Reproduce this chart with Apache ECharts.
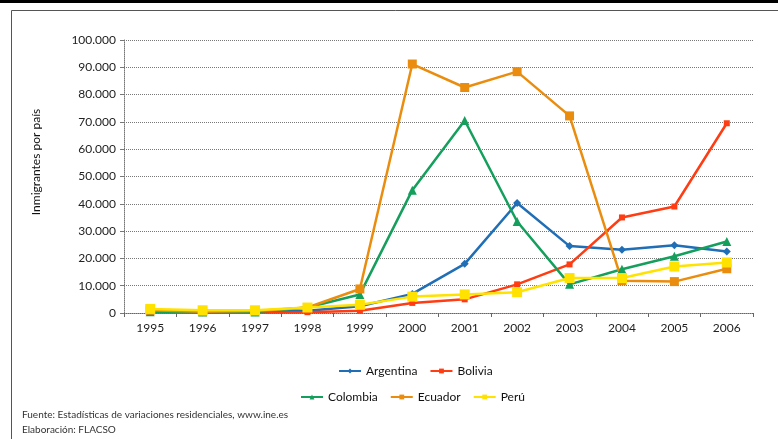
<!DOCTYPE html>
<html>
<head>
<meta charset="utf-8">
<script src="https://cdn.jsdelivr.net/npm/echarts@6/dist/echarts.min.js"></script>
<style>
  html, body { margin: 0; padding: 0; background: #fff; }
  #chart { width: 778px; height: 439px; }
</style>
</head>
<body>
<div id="chart"></div>
<script>
var years = ['1995', '1996', '1997', '1998', '1999', '2000', '2001', '2002', '2003', '2004', '2005', '2006'];

var argentina = [500, 300, 300, 800, 2500, 7000, 18000, 40300, 24500, 23200, 24800, 22500];
var bolivia   = [200, 200, 200, 300, 800, 3700, 5000, 10500, 17800, 35000, 39000, 69500];
var colombia  = [500, 400, 400, 2000, 6800, 45000, 70500, 33500, 10500, 16000, 20800, 26200];
var ecuador   = [1000, 500, 700, 2000, 8800, 91200, 82600, 88400, 72200, 11800, 11500, 16200];
var peru      = [1500, 1000, 1000, 2000, 3000, 6000, 6800, 7600, 12800, 12800, 17000, 18500];

var chart = echarts.init(document.getElementById('chart'));

function fmt(v) {
    return String(v).replace(/\B(?=(\d{3})+(?!\d))/g, '.');
}

function line(name, data, color, symbol, size) {
    return {
        name: name,
        type: 'line',
        data: data,
        symbol: symbol,
        symbolSize: size,
        showSymbol: true,
        lineStyle: { width: 2.5, color: color },
        itemStyle: { color: color },
        emphasis: { disabled: true }
    };
}

var option = {
    animation: false,
    textStyle: { fontFamily: 'Lato' },
    grid: { left: 124, right: 25, top: 40, bottom: 126 },
    graphic: [
        { type: 'rect', shape: { x: 0, y: 0, width: 778, height: 3 }, style: { fill: '#000' } },
        { type: 'rect', shape: { x: 11.5, y: 10.5, width: 800, height: 500 }, style: { fill: 'none', stroke: '#555', lineWidth: 1 } },
        { type: 'text', left: 22, top: 410, style: { text: 'Fuente: Estadísticas de variaciones residenciales, www.ine.es', fill: '#333', font: '10px Lato' } },
        { type: 'text', left: 22, top: 425, style: { text: 'Elaboración: FLACSO', fill: '#333', font: '10px Lato' } },
        { type: 'text', x: 36, y: 162, rotation: Math.PI / 2, style: { text: 'Inmigrantes por país', fill: '#111', font: '12px Lato', align: 'center', verticalAlign: 'middle' } }
    ],
    legend: [
        {
            data: ['Argentina', 'Bolivia'],
            left: 333, top: 360,
            itemWidth: 22, itemHeight: 6, itemGap: 12,
            textStyle: { fontSize: 12, color: '#111', fontFamily: 'Lato' }
        },
        {
            data: ['Colombia', 'Ecuador', 'Perú'],
            left: 295, top: 386,
            itemWidth: 22, itemHeight: 6, itemGap: 12,
            textStyle: { fontSize: 12, color: '#111', fontFamily: 'Lato' }
        }
    ],
    xAxis: {
        type: 'category',
        data: years,
        boundaryGap: true,
        axisLine: { lineStyle: { color: '#666', type: 'dotted' } },
        axisTick: { show: true, length: 4, lineStyle: { color: '#666' } },
        axisLabel: { color: '#222', fontSize: 12, margin: 9 }
    },
    yAxis: {
        type: 'value',
        min: 0,
        max: 100000,
        interval: 10000,
        axisLine: { show: true, lineStyle: { color: '#777', type: 'dotted' } },
        axisTick: { show: true, length: 4, lineStyle: { color: '#777' } },
        splitLine: { lineStyle: { color: '#777', type: 'dotted' } },
        axisLabel: { color: '#222', fontSize: 12, margin: 8, formatter: fmt }
    },
    series: [
        line('Argentina', argentina, '#1f6eb6', 'diamond', 8),
        line('Bolivia', bolivia, '#ff3c12', 'rect', 6),
        line('Colombia', colombia, '#14a05c', 'triangle', 9),
        line('Ecuador', ecuador, '#ea8d0e', 'rect', 9),
        line('Perú', peru, '#ffe200', 'rect', 10)
    ]
};

chart.setOption(option);
</script>
</body>
</html>
